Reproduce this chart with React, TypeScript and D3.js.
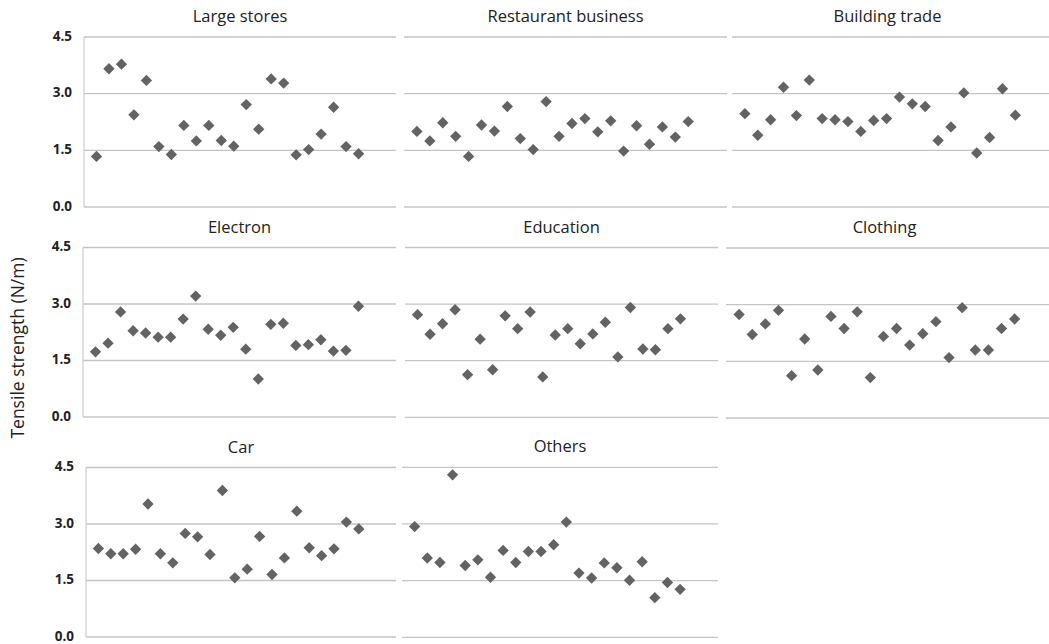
import React from "react";
import * as d3 from "d3";

// Tensile strength by industry, 22 samples each
const sectors = [
  "Large stores",
  "Restaurant business",
  "Building trade",
  "Electron",
  "Education",
  "Clothing",
  "Car",
  "Others",
];

const largeStores = [1.34, 3.66, 3.78, 2.44, 3.35, 1.6, 1.39, 2.16, 1.75, 2.16, 1.76, 1.61, 2.71, 2.06, 3.39, 3.28, 1.38, 1.52, 1.93, 2.64, 1.6, 1.41];
const restaurantBusiness = [2.0, 1.75, 2.23, 1.87, 1.34, 2.17, 2.01, 2.66, 1.81, 1.52, 2.79, 1.87, 2.21, 2.34, 1.99, 2.28, 1.48, 2.15, 1.66, 2.12, 1.85, 2.26];
const buildingTrade = [2.47, 1.9, 2.31, 3.17, 2.42, 3.36, 2.34, 2.31, 2.26, 2.0, 2.29, 2.34, 2.91, 2.73, 2.66, 1.76, 2.12, 3.02, 1.43, 1.84, 3.13, 2.43];
const electron = [1.73, 1.96, 2.79, 2.29, 2.23, 2.12, 2.12, 2.6, 3.21, 2.33, 2.17, 2.38, 1.8, 1.01, 2.46, 2.49, 1.9, 1.92, 2.05, 1.75, 1.77, 2.94];
const education = [2.72, 2.2, 2.48, 2.85, 1.13, 2.07, 1.26, 2.69, 2.35, 2.79, 1.07, 2.18, 2.35, 1.95, 2.21, 2.52, 1.6, 2.91, 1.81, 1.79, 2.35, 2.61];
const clothing = [2.74, 2.21, 2.49, 2.85, 1.12, 2.09, 1.27, 2.69, 2.37, 2.81, 1.07, 2.16, 2.37, 1.93, 2.23, 2.55, 1.6, 2.92, 1.8, 1.8, 2.37, 2.62];
const car = [2.35, 2.21, 2.21, 2.33, 3.53, 2.21, 1.97, 2.75, 2.66, 2.19, 3.89, 1.57, 1.8, 2.67, 1.66, 2.1, 3.34, 2.37, 2.16, 2.34, 3.05, 2.87];
const others = [2.93, 2.1, 1.98, 4.3, 1.9, 2.05, 1.59, 2.3, 1.98, 2.27, 2.27, 2.45, 3.05, 1.7, 1.57, 1.97, 1.84, 1.51, 2.0, 1.05, 1.45, 1.27];

const seriesValues = [largeStores, restaurantBusiness, buildingTrade, electron, education, clothing, car, others];
const yTicks = [0, 1.5, 3.0, 4.5];
const yAxisTitle = "Tensile strength (N/m)";

// Panel frames: [left, right, top (4.5), bottom (0)]
const frames: [number, number, number, number][] = [
  [84, 396, 37, 207],
  [404, 727, 37, 207],
  [732, 1054, 37, 207],
  [83, 396, 247.5, 417],
  [405, 718, 247.5, 417.3],
  [726, 1054, 248, 418],
  [86, 396, 467.5, 637],
  [402, 718, 467.3, 637.3],
];

const FONT = "'Open Sans', 'Noto Sans', sans-serif";
const GRID = "#c4c4c4";
const MARK = "#636363";

export default function App() {
  const W = 1049;
  const H = 644;
  const diamond = d3.symbol().type(d3.symbolDiamond2).size(82)();

  return (
    <svg
      width={W}
      height={H}
      style={{ position: "absolute", left: 0, top: 0, background: "#fff" }}
    >
      <text
        transform={`translate(24, ${348}) rotate(-90)`}
        textAnchor="middle"
        fontFamily={FONT}
        fontSize={17.5}
        fill="#222"
      >
        {yAxisTitle}
      </text>
      {sectors.map((name, i) => {
        const [x0, x1, yTop, yBot] = frames[i];
        const values = seriesValues[i];
        const step = (x1 - x0) / 25;
        const x = d3.scaleLinear().domain([0, 25]).range([x0, x0 + 25 * step]);
        const y = d3.scaleLinear().domain([0, 4.5]).range([yBot, yTop]);
        const firstCol = i % 3 === 0;
        return (
          <g key={name}>
            <text
              x={(x0 + Math.min(x1, 1049)) / 2 + (i % 3 === 2 ? -3 : 0)}
              y={yTop - 15}
              textAnchor="middle"
              fontFamily={FONT}
              fontSize={16.5}
              fill="#222"
            >
              {name}
            </text>
            {yTicks.map((t) => (
              <line
                key={t}
                x1={x0}
                x2={x1}
                y1={y(t)}
                y2={y(t)}
                stroke={GRID}
                strokeWidth={1.3}
              />
            ))}
            {firstCol && (
              <>
                <line
                  x1={x0}
                  x2={x0}
                  y1={y(4.5)}
                  y2={y(0)}
                  stroke="#d0d0d0"
                  strokeWidth={1.3}
                />
                {yTicks.map((t) => (
                  <text
                    key={t}
                    x={x0 - 12}
                    y={y(t) + 3.5}
                    textAnchor="end"
                    fontFamily={FONT}
                    fontWeight="bold"
                    fontSize={13.5}
                    fill="#222"
                  >
                    {t.toFixed(1)}
                  </text>
                ))}
              </>
            )}
            {values.map((v, j) => (
              <path
                key={j}
                d={diamond as string}
                transform={`translate(${x(j + 1)}, ${y(v)})`}
                fill={MARK}
              />
            ))}
          </g>
        );
      })}
    </svg>
  );
}
